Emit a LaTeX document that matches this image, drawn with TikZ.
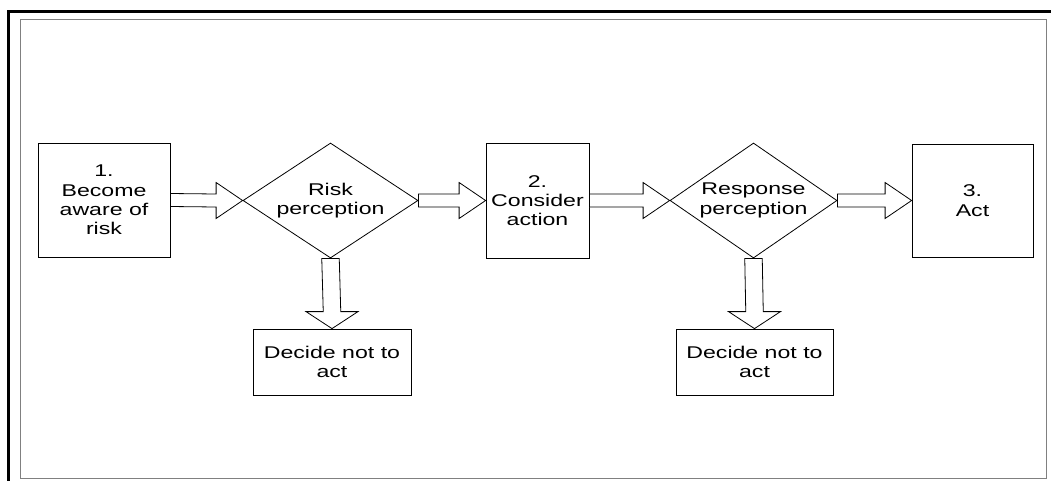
\documentclass[tikz,border=0pt]{standalone}
\usepackage{fontspec}
\setmainfont{Liberation Sans}[FakeStretch=1.36]
\usetikzlibrary{shapes.geometric,calc}
\tikzset{
  every node/.style={font=\fontsize{17}{19.3}\selectfont, align=center},
  box/.style={draw, line width=0.8pt, rectangle, inner sep=0pt},
  dia/.style={draw, line width=0.8pt, diamond, aspect=1.5, inner sep=0pt},
  blk/.style={draw, line width=0.8pt, fill=white, line join=miter},
}
\newcommand\harrow[2]{%
  \draw[blk] ($(#1.east)+(0,-6.5)$) -- ($(#2.west)+(-26.5,-6.5)$) -- ($(#2.west)+(-26.5,-18)$)
    -- (#2.west) -- ($(#2.west)+(-26.5,18)$) -- ($(#2.west)+(-26.5,6.5)$)
    -- ($(#1.east)+(0,6.5)$) -- cycle;}
\newcommand\varrow[2]{%
  \draw[blk] ($(#1.south)+(-8.75,0)$) -- ($(#2.north)+(-8.75,-17)$) -- ($(#2.north)+(-26,-17)$)
    -- (#2.north) -- ($(#2.north)+(26,-17)$) -- ($(#2.north)+(8.75,-17)$)
    -- ($(#1.south)+(8.75,0)$) -- cycle;}
\begin{document}
\begin{tikzpicture}[x=1pt,y=-1pt]
\useasboundingbox (0,0) rectangle (1051,480);
\fill[white] (0,0) rectangle (1051,480);
% frames
\draw[line width=3pt, black] (8,482) -- (8,11) -- (1053,11);
\draw[line width=1pt, gray] (20,19) rectangle (1046,478);
% nodes
\node[box, minimum width=132pt, minimum height=114pt] (b1) at (104,200) {1.\\Become\\aware of\\risk};
\node[dia, minimum width=175pt, minimum height=115pt] (d1) at (330.5,200.5) {Risk\\perception};
\node[box, minimum width=103pt, minimum height=115pt] (b2) at (537.5,200.5) {2.\\Consider\\action};
\node[dia, minimum width=167pt, minimum height=115pt] (d2) at (753.5,200.5) {Response\\perception};
\node[box, minimum width=121pt, minimum height=113pt] (b3) at (972.5,200.5) {3.\\Act};
\node[box, minimum width=158pt, minimum height=66pt] (n1) at (332,362) {Decide not to\\act};
\node[box, minimum width=157pt, minimum height=66pt] (n2) at (754.5,362) {Decide not to\\act};
% connectors
\harrow{b1}{d1}
\harrow{d1}{b2}
\harrow{b2}{d2}
\harrow{d2}{b3}
\varrow{d1}{n1}
\varrow{d2}{n2}
\end{tikzpicture}
\end{document}
